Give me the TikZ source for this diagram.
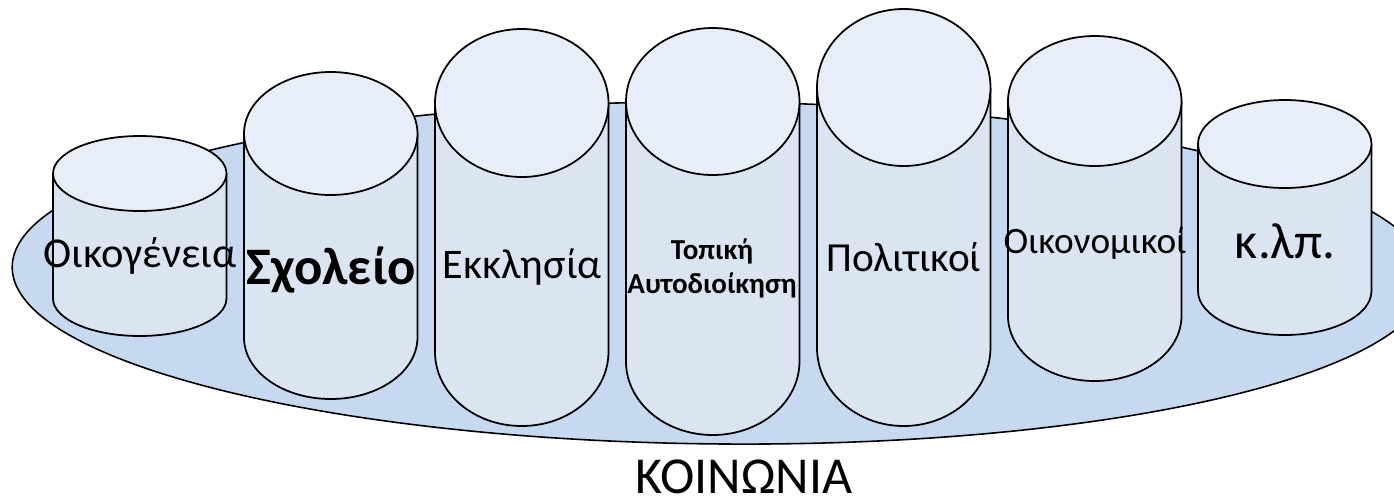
\documentclass[tikz,border=0pt]{standalone}
\usepackage{fontspec}
\setmainfont{Carlito}
\definecolor{basefill}{HTML}{C6D9F0}
\definecolor{bodyfill}{HTML}{DBE5F1}
\definecolor{capfill}{HTML}{E8EEF7}
\newcommand\drawcan[4]{%
  \pgfmathsetmacro\canr{#1+173.5}%
  \pgfmathsetmacro\canc{#1+86.75}%
  \fill[bodyfill] (#1,#2) -- (#1,#3) arc[start angle=180,end angle=360,x radius=1.735cm,y radius={#4*0.02cm}] -- (\canr,#2) -- cycle;
  \draw[canline] (#1,#2) -- (#1,#3) arc[start angle=180,end angle=360,x radius=1.735cm,y radius={#4*0.02cm}] -- (\canr,#2);
  \filldraw[canline,fill=capfill] (\canc,#2) ellipse[x radius=1.735cm,y radius={#4*0.02cm}];
}
\begin{document}
\begin{tikzpicture}[x=0.02cm,y=-0.02cm,
  canline/.style={draw=black,line width=1pt},
  lbl/.style={anchor=base,inner sep=0pt,text=black}]
\useasboundingbox (0,0) rectangle (1394,498);
\clip (0,0) rectangle (1394,498);
\filldraw[fill=basefill,draw=black,line width=0.9pt,rotate around={-0.5:(720,273)}] (720,273) ellipse[x radius=14.16cm,y radius=3.42cm];
\drawcan{53}{173.5}{298.5}{37.5}
\drawcan{244}{133.5}{337.5}{61.5}
\drawcan{435}{103}{352}{74}
\drawcan{626}{101.5}{361.5}{73.5}
\drawcan{817}{87.5}{347.5}{78.5}
\drawcan{1008}{101}{316}{65}
\drawcan{1198}{144}{291}{44}
\node[lbl,font=\fontsize{24.2}{29}\selectfont] (oik) at (140,267) {Οικογένεια};
\node[lbl,font=\fontsize{30}{36}\selectfont\bfseries] (sch) at (331,284) {Σχολείο};
\node[lbl,font=\fontsize{24}{29}\selectfont] (ekk) at (522,278) {Εκκλησία};
\node[lbl,font=\fontsize{16.5}{20}\selectfont\bfseries] (top1) at (712,259) {Τοπική};
\node[lbl,font=\fontsize{16.5}{20}\selectfont\bfseries] (top2) at (712,293) {Αυτοδιοίκηση};
\node[lbl,font=\fontsize{23.5}{28}\selectfont] (pol) at (904,271) {Πολιτικοί};
\node[lbl,font=\fontsize{21.2}{25}\selectfont] (oikon) at (1095,253) {Οικονομικοί};
\node[lbl,font=\fontsize{29}{35}\selectfont] (klp) at (1285,258) {κ.λπ.};
\node[lbl,text depth=0pt,font=\fontsize{29.5}{35}\selectfont] (koin) at (744,493) {ΚΟΙΝΩΝΙΑ};
\end{tikzpicture}
\end{document}
